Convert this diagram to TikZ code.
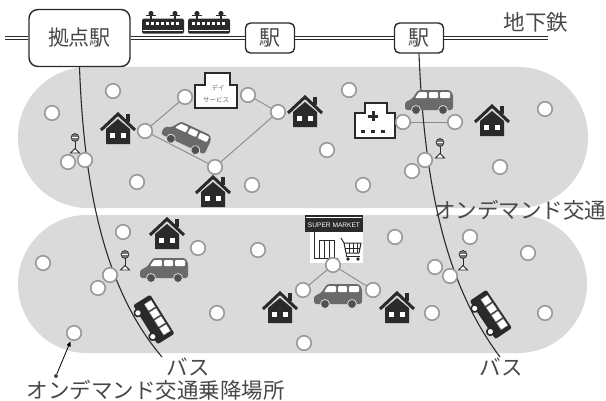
\documentclass[tikz,border=0pt]{standalone}
\usepackage{fontspec}
\newfontfamily\jp{Noto Sans CJK JP}
\newfontfamily\lat{Liberation Sans}
\usetikzlibrary{arrows.meta}

\definecolor{zone}{HTML}{DADADA}
\definecolor{ink}{HTML}{2A2A2A}
\definecolor{label}{HTML}{484848}
\definecolor{ring}{HTML}{999999}
\definecolor{vanbody}{HTML}{6A6A6A}
\definecolor{linkgray}{HTML}{8A8A8A}

\tikzset{
  stop/.style={circle, draw=ring, line width=1.6pt, fill=white, minimum size=14.5pt, inner sep=0pt},
  stationbox/.style={draw=ink, line width=1.4pt, fill=white, rounded corners=5pt,
    minimum width=49pt, minimum height=30pt, inner sep=0pt,
    font=\jp\fontsize{21}{21}\selectfont, text=label},
  hubbox/.style={stationbox, rounded corners=9pt, minimum width=101pt, minimum height=57pt},
  rail/.style={draw=ink, line width=1.6pt, double=white, double distance=1.5pt},
  busline/.style={draw=ink, line width=1.1pt},
  linkline/.style={draw=linkgray, line width=0.9pt},
  jplabel/.style={font=\jp\fontsize{21.5}{21.5}\selectfont, text=label, inner sep=0pt},
  tinylabel/.style={font=\jp\fontsize{6.5}{6.5}\selectfont, text=label!80, inner sep=0pt},
  dotmark/.style={circle, fill=label, minimum size=4pt, inner sep=0pt},
  % house icon
  hut/.pic={
    \draw[ink, line width=3pt, line join=miter] (-17,2) -- (0,-14) -- (17,2);
    \fill[ink] (8,-14) rectangle (12,-6);
    \fill[ink] (-12,16) -- (-12,1) -- (0,-9) -- (12,1) -- (12,16) -- cycle;
    \fill[white] (-8,5) rectangle (-3,10);
    \fill[white] (3,5) rectangle (8,10);
  },
  % minivan icon
  van/.pic={
    \fill[vanbody, rounded corners=2.5pt] (-24,8) -- (-24,0) -- (-17,-3) -- (-11,-12)
      -- (21,-12) -- (24,-8) -- (24,8) -- cycle;
    \fill[white, rounded corners=1pt] (-10,-10) -- (-2,-10) -- (-2,-4) -- (-14,-4) -- cycle;
    \fill[white, rounded corners=1pt] (0,-10) rectangle (9,-4);
    \fill[white, rounded corners=1pt] (11,-10) rectangle (21,-4);
    \filldraw[fill=vanbody!75!black, draw=zone, line width=0.8pt] (-13,8) circle (4.5);
    \filldraw[fill=vanbody!75!black, draw=zone, line width=0.8pt] (14,8) circle (4.5);
  },
  % bus icon
  coach/.pic={
    \fill[ink, rounded corners=2pt] (-23,-11) rectangle (23,9);
    \foreach \wx in {-18,-8.5,1,10.5} {\filldraw[fill=white, draw=ink!60, line width=0.4pt] (\wx,-9) rectangle ++(8,8);}
    \filldraw[fill=white, draw=ink, line width=1.6pt] (-14,9) circle (3.6);
    \filldraw[fill=white, draw=ink, line width=1.6pt] (14,9) circle (3.6);
  },
  % tram car icon
  railcar/.pic={
    \fill[ink, rounded corners=1.5pt] (-21,-7) rectangle (21,8);
    \foreach \wx in {-17,-12,-7,-2,3,8,13} {\fill[white] (\wx,-4) rectangle ++(3.2,3);}
    \fill[white] (-20,4) rectangle (20,4.8);
    \foreach \px in {-12,12} {
      \draw[ink, line width=1.2pt] (\px,-7) -- (\px,-10);
      \fill[ink] (\px,-12) circle (2.6);
      \draw[ink, line width=1.2pt] (\px-5,-10) -- (\px+5,-10);
    }
  },
  % bus-stop pole
  polesign/.pic={
    \draw[ink, line width=0.8pt] (0,-12) -- (0,-4);
    \draw[ink, line width=0.9pt, fill=white] (-4.5,0) -- (0,-4.5) -- (4.5,0) -- cycle;
    \filldraw[fill=ink!65, draw=ink, line width=0.6pt] (0,-15.5) circle (4);
    \draw[white, line width=1pt] (-3,-15.5) -- (3,-15.5);
  },
}

\begin{document}
\begin{tikzpicture}[x=1pt, y=-1pt]
  \useasboundingbox (0,0) rectangle (606,400);
  \fill[white] (0,0) rectangle (606,400);

  % on-demand service zones
  \fill[zone, rounded corners=70pt] (18,67) rectangle (588,208);
  \fill[zone, rounded corners=69pt] (18,215) rectangle (587,353);

  % subway line with stations
  \coordinate (railW) at (5,38);
  \coordinate (railE) at (548,38);
  \node[hubbox] (hub) at (79.5,38) {拠点駅};
  \node[stationbox] (st1) at (270,38) {駅};
  \node[stationbox] (st2) at (419,38) {駅};
  \draw[rail] (railW) -- (hub.west);
  \draw[rail] (hub.east) -- (st1.west);
  \draw[rail] (st1.east) -- (st2.west);
  \draw[rail] (st2.east) -- (railE);
  \node[jplabel] (subway) at (536,22) {地下鉄};
  \pic at (163,25.5) {railcar};
  \pic at (209,25.5) {railcar};

  % stops
  \foreach \nm/\px/\py in {
      u1/52/113, u2/113/91, u3/185/97, u4/248/95, u5/278/112, u6/145/131,
      u7/215/167, u8/252/185, u9/137/182, u10/327/150, u11/349/90, u12/403/122,
      u13/455/122, u14/363/185, u15/500/167, u16/545/109,
      l1/123/232, l2/198/248, l3/258/250, l4/43/263, l5/217/313, l6/74/333,
      l7/333/265, l8/303/290, l9/373/290, l10/395/237, l11/470/237, l12/528/253,
      l13/432/313, l14/545/313, l15/304/343}
    {\coordinate (\nm) at (\px,\py);}

  % on-demand routes
  \draw[linkline] (u6) -- (u3);
  \draw[linkline] (u4) -- (u5);
  \draw[linkline] (u5) -- (u7);
  \draw[linkline] (u7) -- (u6);
  \draw[linkline] (u12) -- (u13);
  \draw[linkline] (l7) -- (l8);
  \draw[linkline] (l7) -- (l9);

  % bus routes
  \coordinate (busLend) at (162,357);
  \coordinate (busRend) at (500,357);
  \draw[busline] (hub.south) .. controls (84,190) and (105,290) .. (busLend);
  \draw[busline] (st2.south) .. controls (425,200) and (450,290) .. (busRend);

  % day-service facility
  \filldraw[fill=white, draw=ink, line width=1.2pt]
    (195,85) -- (205,85) -- (205,73) -- (230,73) -- (230,85) -- (237,85)
    -- (237,108) -- (195,108) -- cycle;
  \node[tinylabel] (dayA) at (218,88) {デイ};
  \node[tinylabel] (dayB) at (216,100) {サービス};

  % clinic
  \filldraw[fill=white, draw=ink, line width=1.2pt]
    (355,113) -- (365,113) -- (365,103) -- (387,103) -- (387,113) -- (395,113)
    -- (395,138) -- (355,138) -- cycle;
  \fill[ink] (371.5,111) rectangle (374.5,121);
  \fill[ink] (368,114.5) rectangle (378,117.5);
  \foreach \dx in {363,373,383} {\fill[ink] (\dx-1.8,129.5) rectangle (\dx+1.8,133);}

  % supermarket
  \fill[white] (310,232) rectangle (363,263);
  \fill[ink] (305,215) rectangle (363,232);
  \draw[white, line width=0.5pt] (306,217) -- (362,217);
  \node[font=\lat\fontsize{6.6}{6.6}\selectfont, text=white, inner sep=0pt] (smtext) at (334,225) {SUPER MARKET};
  \draw[ink, line width=1pt] (314,232) -- (314,258) -- (338,258);
  \draw[ink, line width=1pt] (319,240) rectangle (334,258);
  \draw[ink, line width=0.8pt] (324,240) -- (324,258) (329,240) -- (329,258);
  \draw[ink, line width=1pt] (341,238) -- (344,243) -- (361,243) -- (359,253) -- (346,253) -- (344,243);
  \draw[ink, line width=0.6pt] (349,243) -- (349,253) (353,243) -- (353,253) (357,243) -- (357,253)
    (345,248) -- (360,248);
  \draw[ink, line width=1pt] (346,253) -- (346,256) -- (360,256);
  \fill[ink] (348,259) circle (1.8) (358,259) circle (1.8);

  % houses
  \pic at (118,128) {hut};
  \pic at (305,111) {hut};
  \pic at (213,191) {hut};
  \pic at (492,120) {hut};
  \pic at (167,233) {hut};
  \pic at (280,307) {hut};
  \pic at (397,307) {hut};

  % vehicles
  \pic[rotate=-25] at (186,137) {van};
  \pic at (429,102) {van};
  \pic at (164,270) {van};
  \pic at (338,296) {van};
  \pic[rotate=-58] at (153,320) {coach};
  \pic[rotate=-56] at (490,315) {coach};

  % bus-stop poles
  \pic at (75,153) {polesign};
  \pic at (440,158) {polesign};
  \pic at (125,270) {polesign};
  \pic at (463,270) {polesign};

  % stop markers
  \foreach \nm in {u1,u2,u3,u4,u5,u6,u7,u8,u9,u10,u11,u12,u13,u14,u15,u16,
                   l1,l2,l3,l4,l5,l6,l7,l8,l9,l10,l11,l12,l13,l14,l15}
    {\node[stop] (\nm-m) at (\nm) {};}

  % transfer stops on the bus routes
  \node[stop] (tA2) at (68,162) {};
  \node[stop] (tA1) at (85,160) {};
  \node[stop] (tB2) at (412,171) {};
  \node[stop] (tB1) at (425,160) {};
  \node[stop] (tC2) at (98,288) {};
  \node[stop] (tC1) at (110,275) {};
  \node[stop] (tD2) at (435,267) {};
  \node[stop] (tD1) at (450,276) {};

  % labels
  \node[jplabel] (odlabel) at (520,210) {オンデマンド交通};
  \node[jplabel] (busLlabel) at (188,367) {バス};
  \node[jplabel] (busRlabel) at (501,367) {バス};
  \node[jplabel] (stoplabel) at (156,390) {オンデマンド交通乗降場所};
  \node[dotmark] (pin) at (56,376) {};
  \draw[label, line width=0.8pt, -{Triangle[length=5pt,width=4pt]}, shorten >=1pt] (pin) -- (l6-m);
\end{tikzpicture}
\end{document}
